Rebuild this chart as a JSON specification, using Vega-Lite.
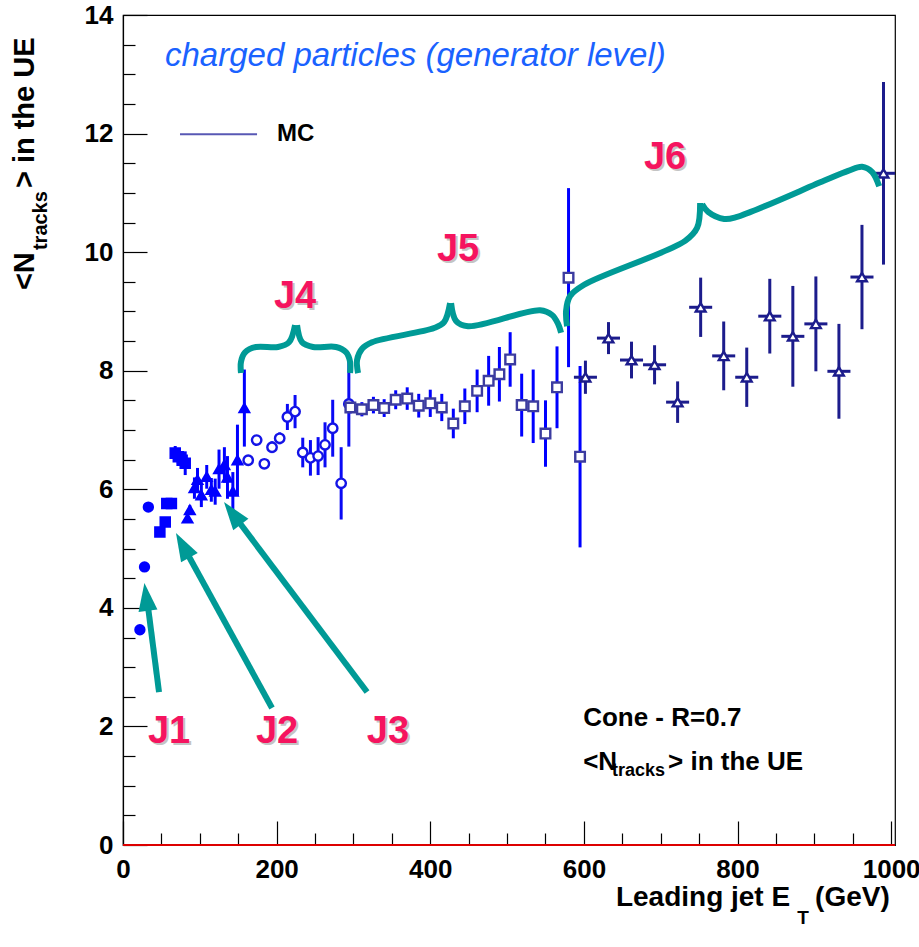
{
  "$schema": "https://vega.github.io/schema/vega-lite/v6.json",
  "width": 772,
  "height": 830,
  "autosize": {"type": "none"},
  "padding": {"left": 123, "top": 15, "right": 24, "bottom": 102},
  "background": "white",
  "config": {
    "view": {"stroke": "black", "strokeWidth": 1.2},
    "font": "Liberation Sans"
  },
  "datasets": {
    "pts": [
      {"s": "J1", "x": 22, "y": 3.63, "e": 0.04},
      {"s": "J1", "x": 28, "y": 4.69, "e": 0.04},
      {"s": "J1", "x": 33, "y": 5.70, "e": 0.04},
      {"s": "J2", "x": 48, "y": 5.28, "e": 0.05},
      {"s": "J2", "x": 55, "y": 5.45, "e": 0.05},
      {"s": "J2", "x": 57, "y": 5.76, "e": 0.06},
      {"s": "J2", "x": 63, "y": 5.76, "e": 0.06},
      {"s": "J2", "x": 68, "y": 6.61, "e": 0.12},
      {"s": "J2", "x": 72, "y": 6.55, "e": 0.12},
      {"s": "J2", "x": 77, "y": 6.49, "e": 0.14},
      {"s": "J2", "x": 81, "y": 6.44, "e": 0.2},
      {"s": "J3", "x": 84, "y": 5.51, "e": 0.06},
      {"s": "J3", "x": 87, "y": 5.65, "e": 0.08},
      {"s": "J3", "x": 93, "y": 6.02, "e": 0.18},
      {"s": "J3", "x": 97, "y": 6.16, "e": 0.2},
      {"s": "J3", "x": 102, "y": 5.90, "e": 0.2},
      {"s": "J3", "x": 109, "y": 6.21, "e": 0.2},
      {"s": "J3", "x": 115, "y": 5.99, "e": 0.2},
      {"s": "J3", "x": 120, "y": 5.96, "e": 0.22},
      {"s": "J3", "x": 125, "y": 6.34, "e": 0.33},
      {"s": "J3", "x": 132, "y": 6.41, "e": 0.3},
      {"s": "J3", "x": 136, "y": 6.20, "e": 0.36},
      {"s": "J3", "x": 143, "y": 5.96, "e": 0.33},
      {"s": "J3", "x": 149, "y": 6.49, "e": 0.6},
      {"s": "J3", "x": 158, "y": 7.37, "e": 0.65},
      {"s": "J4", "x": 163, "y": 6.49, "e": 0.08},
      {"s": "J4", "x": 174, "y": 6.83, "e": 0.08},
      {"s": "J4", "x": 184, "y": 6.43, "e": 0.08},
      {"s": "J4", "x": 194, "y": 6.71, "e": 0.1},
      {"s": "J4", "x": 204, "y": 6.86, "e": 0.1},
      {"s": "J4", "x": 214, "y": 7.22, "e": 0.22},
      {"s": "J4", "x": 224, "y": 7.31, "e": 0.28},
      {"s": "J4", "x": 234, "y": 6.62, "e": 0.25},
      {"s": "J4", "x": 244, "y": 6.53, "e": 0.3},
      {"s": "J4", "x": 254, "y": 6.56, "e": 0.32},
      {"s": "J4", "x": 263, "y": 6.75, "e": 0.38},
      {"s": "J4", "x": 273, "y": 7.03, "e": 0.48},
      {"s": "J4", "x": 284, "y": 6.10, "e": 0.61},
      {"s": "J4", "x": 294, "y": 7.44, "e": 0.72},
      {"s": "J5", "x": 296, "y": 7.38, "e": 0.1},
      {"s": "J5", "x": 311, "y": 7.35, "e": 0.12},
      {"s": "J5", "x": 326, "y": 7.42, "e": 0.14},
      {"s": "J5", "x": 340, "y": 7.37, "e": 0.15},
      {"s": "J5", "x": 355, "y": 7.51, "e": 0.16},
      {"s": "J5", "x": 370, "y": 7.53, "e": 0.19},
      {"s": "J5", "x": 385, "y": 7.41, "e": 0.2},
      {"s": "J5", "x": 400, "y": 7.45, "e": 0.23},
      {"s": "J5", "x": 415, "y": 7.38, "e": 0.23},
      {"s": "J5", "x": 430, "y": 7.11, "e": 0.25},
      {"s": "J5", "x": 445, "y": 7.40, "e": 0.3},
      {"s": "J5", "x": 461, "y": 7.66, "e": 0.36},
      {"s": "J5", "x": 476, "y": 7.83, "e": 0.42},
      {"s": "J5", "x": 490, "y": 7.94, "e": 0.46},
      {"s": "J5", "x": 504, "y": 8.19, "e": 0.46},
      {"s": "J5", "x": 519, "y": 7.42, "e": 0.53},
      {"s": "J5", "x": 534, "y": 7.40, "e": 0.62},
      {"s": "J5", "x": 550, "y": 6.94, "e": 0.56},
      {"s": "J5", "x": 565, "y": 7.72, "e": 0.69},
      {"s": "J5", "x": 580, "y": 9.57, "e": 1.51},
      {"s": "J5", "x": 595, "y": 6.55, "e": 1.53},
      {"s": "J6", "x": 602, "y": 7.89, "e": 0.28, "xe": 15},
      {"s": "J6", "x": 632, "y": 8.55, "e": 0.27, "xe": 15},
      {"s": "J6", "x": 662, "y": 8.18, "e": 0.31, "xe": 15},
      {"s": "J6", "x": 692, "y": 8.10, "e": 0.33, "xe": 15},
      {"s": "J6", "x": 722, "y": 7.47, "e": 0.35, "xe": 15},
      {"s": "J6", "x": 752, "y": 9.07, "e": 0.5, "xe": 15},
      {"s": "J6", "x": 782, "y": 8.25, "e": 0.58, "xe": 15},
      {"s": "J6", "x": 812, "y": 7.89, "e": 0.5, "xe": 15},
      {"s": "J6", "x": 842, "y": 8.92, "e": 0.63, "xe": 15},
      {"s": "J6", "x": 872, "y": 8.58, "e": 0.85, "xe": 15},
      {"s": "J6", "x": 902, "y": 8.79, "e": 0.8, "xe": 15},
      {"s": "J6", "x": 932, "y": 7.99, "e": 0.8, "xe": 15},
      {"s": "J6", "x": 962, "y": 9.58, "e": 0.88, "xe": 15},
      {"s": "J6", "x": 990, "y": 11.33, "e": 1.54, "xe": 15}
    ],
    "braces": [
      {"b": "J4a", "i": 0, "x": 153.6, "y": 7.96},
      {"b": "J4a", "i": 1, "x": 153.6, "y": 8.15},
      {"b": "J4a", "i": 2, "x": 158.9, "y": 8.31},
      {"b": "J4a", "i": 3, "x": 173.2, "y": 8.40},
      {"b": "J4a", "i": 4, "x": 201.8, "y": 8.40},
      {"b": "J4a", "i": 5, "x": 216.1, "y": 8.48},
      {"b": "J4a", "i": 6, "x": 224.0, "y": 8.77},
      {"b": "J4b", "i": 0, "x": 226.6, "y": 8.77},
      {"b": "J4b", "i": 1, "x": 233.1, "y": 8.48},
      {"b": "J4b", "i": 2, "x": 247.4, "y": 8.40},
      {"b": "J4b", "i": 3, "x": 277.3, "y": 8.40},
      {"b": "J4b", "i": 4, "x": 290.4, "y": 8.31},
      {"b": "J4b", "i": 5, "x": 295.6, "y": 8.15},
      {"b": "J4b", "i": 6, "x": 295.6, "y": 7.96},
      {"b": "J5a", "i": 0, "x": 306.0, "y": 7.96},
      {"b": "J5a", "i": 1, "x": 304.7, "y": 8.18},
      {"b": "J5a", "i": 2, "x": 311.2, "y": 8.37},
      {"b": "J5a", "i": 3, "x": 324.2, "y": 8.48},
      {"b": "J5a", "i": 4, "x": 405.0, "y": 8.72},
      {"b": "J5a", "i": 5, "x": 418.0, "y": 8.82},
      {"b": "J5a", "i": 6, "x": 425.8, "y": 9.14},
      {"b": "J5b", "i": 0, "x": 427.1, "y": 9.14},
      {"b": "J5b", "i": 1, "x": 433.6, "y": 8.84},
      {"b": "J5b", "i": 2, "x": 449.2, "y": 8.75},
      {"b": "J5b", "i": 3, "x": 543.0, "y": 9.02},
      {"b": "J5b", "i": 4, "x": 558.6, "y": 8.94},
      {"b": "J5b", "i": 5, "x": 566.4, "y": 8.79},
      {"b": "J5b", "i": 6, "x": 570.3, "y": 8.64},
      {"b": "J6a", "i": 0, "x": 578.1, "y": 8.75},
      {"b": "J6a", "i": 1, "x": 576.8, "y": 9.01},
      {"b": "J6a", "i": 2, "x": 582.0, "y": 9.26},
      {"b": "J6a", "i": 3, "x": 600.3, "y": 9.45},
      {"b": "J6a", "i": 4, "x": 731.8, "y": 10.19},
      {"b": "J6a", "i": 5, "x": 747.4, "y": 10.41},
      {"b": "J6a", "i": 6, "x": 751.3, "y": 10.83},
      {"b": "J6b", "i": 0, "x": 753.9, "y": 10.81},
      {"b": "J6b", "i": 1, "x": 761.7, "y": 10.68},
      {"b": "J6b", "i": 2, "x": 782.6, "y": 10.56},
      {"b": "J6b", "i": 3, "x": 798.2, "y": 10.59},
      {"b": "J6b", "i": 4, "x": 915.4, "y": 11.22},
      {"b": "J6b", "i": 5, "x": 944.0, "y": 11.37},
      {"b": "J6b", "i": 6, "x": 962.2, "y": 11.44},
      {"b": "J6b", "i": 7, "x": 975.3, "y": 11.35},
      {"b": "J6b", "i": 8, "x": 984.4, "y": 11.11}
    ],
    "arrows": [
      {"a": "J1", "x": 46.9, "y": 2.58, "x2": 31.9, "y2": 4.085},
      {"a": "J2", "x": 194.0, "y": 2.31, "x2": 81.5, "y2": 4.967},
      {"a": "J3", "x": 317.7, "y": 2.58, "x2": 147.1, "y2": 5.515}
    ],
    "heads": [
      {"a": "J1", "x": 30.2, "y": 4.185},
      {"a": "J2", "x": 77.7, "y": 5.055},
      {"a": "J3", "x": 142.4, "y": 5.596}
    ],
    "jlabels": [
      {"t": "J1", "x": 60, "y": 1.906},
      {"t": "J2", "x": 200.5, "y": 1.906},
      {"t": "J3", "x": 345, "y": 1.906},
      {"t": "J4", "x": 224, "y": 9.24},
      {"t": "J5", "x": 436.2, "y": 10.04},
      {"t": "J6", "x": 705.7, "y": 11.59}
    ]
  },
  "encoding": {
    "x": {
      "field": "x", "type": "quantitative",
      "scale": {"domain": [0, 1005], "nice": false, "zero": false},
      "axis": {
        "values": [0, 50, 100, 150, 200, 250, 300, 350, 400, 450, 500, 550, 600, 650, 700, 750, 800, 850, 900, 950, 1000],
        "labelExpr": "datum.value % 200 == 0 ? format(datum.value, 'd') : ''",
        "title": null, "grid": false,
        "domainColor": "black", "domainWidth": 1.2,
        "tickColor": "black", "tickWidth": 1.2,
        "tickSize": {"condition": {"test": "datum.value % 200 == 0", "value": -24}, "value": -12},
        "labelFont": "Liberation Sans", "labelFontWeight": "bold", "labelFontSize": 26, "labelColor": "black",
        "labelPadding": {"condition": {"test": "datum.value % 200 == 0", "value": 35}, "value": 23},
        "labelOverlap": false, "labelBound": false, "labelFlush": false,
        "encode": {
          "labels": {"update": {"align": {"signal": "datum.value == 1000 ? 'right' : 'center'"}}}
        }
      }
    },
    "y": {
      "field": "y", "type": "quantitative",
      "scale": {"domain": [0, 14], "nice": false, "zero": false},
      "axis": {
        "values": [0, 0.5, 1, 1.5, 2, 2.5, 3, 3.5, 4, 4.5, 5, 5.5, 6, 6.5, 7, 7.5, 8, 8.5, 9, 9.5, 10, 10.5, 11, 11.5, 12, 12.5, 13, 13.5, 14],
        "labelExpr": "datum.value % 2 == 0 ? format(datum.value, 'd') : ''",
        "title": null, "grid": false,
        "domainColor": "black", "domainWidth": 1.2,
        "tickColor": "black", "tickWidth": 1.2,
        "tickSize": {"condition": {"test": "datum.value % 2 == 0", "value": -24}, "value": -12},
        "labelFont": "Liberation Sans", "labelFontWeight": "bold", "labelFontSize": 26, "labelColor": "black",
        "labelPadding": {"condition": {"test": "datum.value % 2 == 0", "value": 34}, "value": 22},
        "labelOverlap": false, "labelBound": false, "labelFlush": false
      }
    }
  },
  "layer": [
    {
      "data": {"values": [{"x": 0, "x2": 1005, "y": 0}]},
      "mark": {"type": "rule", "color": "#dd0000", "strokeWidth": 2},
      "encoding": {"x2": {"field": "x2"}}
    },
    {
      "data": {"name": "pts"},
      "mark": {"type": "errorbar", "thickness": 3},
      "encoding": {
        "yError": {"field": "e"},
        "color": {"field": "s", "type": "nominal", "scale": {"domain": ["J1", "J2", "J3", "J4", "J5", "J6"], "range": ["#0000ff", "#0000ff", "#0000ff", "#0a0af5", "#0000ff", "#1c1c8c"]}, "legend": null}
      }
    },
    {
      "data": {"name": "pts"},
      "transform": [{"filter": "datum.s == 'J6'"}],
      "mark": {"type": "errorbar", "thickness": 3, "color": "#1c1c8c"},
      "encoding": {
        "xError": {"field": "xe"}
      }
    },
    {
      "data": {"name": "pts"},
      "mark": {"type": "point", "filled": true, "strokeWidth": 2.4, "opacity": 1},
      "encoding": {
        "shape": {"field": "s", "type": "nominal", "scale": {"domain": ["J1", "J2", "J3", "J4", "J5", "J6"], "range": ["circle", "square", "triangle-up", "circle", "square", "triangle-up"]}, "legend": null},
        "fill": {"field": "s", "type": "nominal", "scale": {"domain": ["J1", "J2", "J3", "J4", "J5", "J6"], "range": ["#0000ff", "#0000ff", "#0000ff", "#ffffff", "#ffffff", "#ffffff"]}, "legend": null},
        "stroke": {"field": "s", "type": "nominal", "scale": {"domain": ["J1", "J2", "J3", "J4", "J5", "J6"], "range": ["#0000ff", "#0000ff", "#0000ff", "#1414e6", "#3c3ca0", "#1c1c8c"]}, "legend": null},
        "size": {"field": "s", "type": "ordinal", "scale": {"domain": ["J1", "J2", "J3", "J4", "J5", "J6"], "range": [80, 95, 95, 150, 150, 110]}, "legend": null}
      }
    },
    {
      "data": {"name": "braces"},
      "mark": {"type": "line", "color": "#009a96", "strokeWidth": 6, "interpolate": "catmull-rom", "strokeCap": "butt", "strokeJoin": "round"},
      "encoding": {
        "detail": {"field": "b", "type": "nominal"},
        "order": {"field": "i", "type": "quantitative"}
      }
    },
    {
      "data": {"name": "arrows"},
      "mark": {"type": "rule", "color": "#009a96", "strokeWidth": 6, "strokeCap": "butt"},
      "encoding": {
        "x2": {"field": "x2"},
        "y2": {"field": "y2"}
      }
    },
    {
      "data": {"name": "heads"},
      "transform": [{"filter": "datum.a == 'J1'"}],
      "mark": {"type": "point", "shape": "M0,-1L0.68,1L-0.68,1Z", "filled": true, "color": "#009a96", "size": 784, "angle": 352.7, "opacity": 1}
    },
    {
      "data": {"name": "heads"},
      "transform": [{"filter": "datum.a == 'J2'"}],
      "mark": {"type": "point", "shape": "M0,-1L0.68,1L-0.68,1Z", "filled": true, "color": "#009a96", "size": 784, "angle": 331.3, "opacity": 1}
    },
    {
      "data": {"name": "heads"},
      "transform": [{"filter": "datum.a == 'J3'"}],
      "mark": {"type": "point", "shape": "M0,-1L0.68,1L-0.68,1Z", "filled": true, "color": "#009a96", "size": 784, "angle": 323, "opacity": 1}
    },
    {
      "data": {"name": "jlabels"},
      "mark": {"type": "text", "font": "Liberation Sans", "fontWeight": "bold", "fontSize": 38, "color": "#c4c4c4", "dx": 2, "dy": 2, "align": "center", "baseline": "middle"},
      "encoding": {"text": {"field": "t"}}
    },
    {
      "data": {"name": "jlabels"},
      "mark": {"type": "text", "font": "Liberation Sans", "fontWeight": "bold", "fontSize": 38, "color": "#f5145f", "align": "center", "baseline": "middle"},
      "encoding": {"text": {"field": "t"}}
    },
    {
      "data": {"values": [{"x": 54.7, "y": 13.31, "t": "charged particles (generator level)"}]},
      "mark": {"type": "text", "font": "Liberation Sans", "fontStyle": "italic", "fontSize": 33, "color": "#1a62ff", "align": "left", "baseline": "middle"},
      "encoding": {"text": {"field": "t"}}
    },
    {
      "data": {"values": [{"x": 74.2, "x2": 174.5, "y": 11.99}]},
      "mark": {"type": "rule", "color": "#5858b4", "strokeWidth": 2},
      "encoding": {"x2": {"field": "x2"}}
    },
    {
      "data": {"values": [{"x": 200.5, "y": 11.99, "t": "MC"}]},
      "mark": {"type": "text", "font": "Liberation Sans", "fontWeight": "bold", "fontSize": 24, "color": "black", "align": "left", "baseline": "middle"},
      "encoding": {"text": {"field": "t"}}
    },
    {
      "data": {"values": [
        {"x": 599.0, "y": 2.14, "t": "Cone - R=0.7"},
        {"x": 599.0, "y": 1.40, "t": "<N"},
        {"x": 709.6, "y": 1.40, "t": "> in the UE"}
      ]},
      "mark": {"type": "text", "font": "Liberation Sans", "fontWeight": "bold", "fontSize": 26, "color": "black", "align": "left", "baseline": "middle"},
      "encoding": {"text": {"field": "t"}}
    },
    {
      "data": {"values": [
        {"x": 636.7, "y": 1.25, "t": "tracks"}
      ]},
      "mark": {"type": "text", "font": "Liberation Sans", "fontWeight": "bold", "fontSize": 18, "color": "black", "align": "left", "baseline": "middle"},
      "encoding": {"text": {"field": "t"}}
    },
    {
      "data": {"values": [
        {"x": 868.5, "y": -0.894, "t": "Leading jet E"}
      ]},
      "mark": {"type": "text", "font": "Liberation Sans", "fontWeight": "bold", "fontSize": 28, "color": "black", "align": "right", "baseline": "middle"},
      "encoding": {"text": {"field": "t"}}
    },
    {
      "data": {"values": [
        {"x": 901.0, "y": -0.894, "t": "(GeV)"}
      ]},
      "mark": {"type": "text", "font": "Liberation Sans", "fontWeight": "bold", "fontSize": 28, "color": "black", "align": "left", "baseline": "middle"},
      "encoding": {"text": {"field": "t"}}
    },
    {
      "data": {"values": [
        {"x": 877.6, "y": -1.23, "t": "T"}
      ]},
      "mark": {"type": "text", "font": "Liberation Sans", "fontWeight": "bold", "fontSize": 19, "color": "black", "align": "left", "baseline": "middle"},
      "encoding": {"text": {"field": "t"}}
    },
    {
      "data": {"values": [
        {"x": -127.6, "y": 9.36, "t": "<N"},
        {"x": -127.6, "y": 11.08, "t": "> in the UE"}
      ]},
      "mark": {"type": "text", "font": "Liberation Sans", "fontWeight": "bold", "fontSize": 29, "color": "black", "align": "left", "baseline": "middle", "angle": 270},
      "encoding": {"text": {"field": "t"}}
    },
    {
      "data": {"values": [
        {"x": -107.0, "y": 10.035, "t": "tracks"}
      ]},
      "mark": {"type": "text", "font": "Liberation Sans", "fontWeight": "bold", "fontSize": 20, "color": "black", "align": "left", "baseline": "middle", "angle": 270},
      "encoding": {"text": {"field": "t"}}
    }
  ]
}
